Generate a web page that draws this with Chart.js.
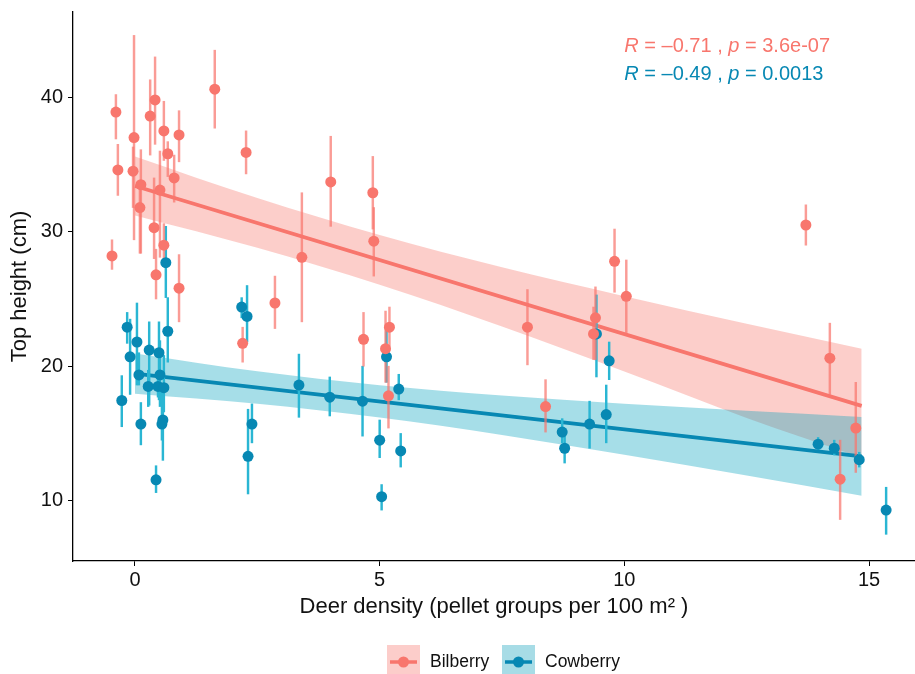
<!DOCTYPE html>
<html>
<head>
<meta charset="utf-8">
<script src="https://cdn.jsdelivr.net/npm/chart.js@4.4.1/dist/chart.umd.min.js"></script>
<style>
  html, body { margin: 0; padding: 0; background: #fff; }
  canvas { display: block; }
</style>
</head>
<body>
<canvas id="chart" width="915" height="674"></canvas>
<script>
// ticks
const xTicks = [0, 5, 10, 15];
const yTicks = [10, 20, 30, 40];

// Bilberry points (x is jittered deer density), with error bar ends
const bilX  = [-0.39, -0.35, -0.47, -0.02, -0.04, 0.12, 0.10, 0.31, 0.41, 0.39, 0.43, 0.51, 0.59, 0.59, 0.67, 0.80, 0.90, 0.90, 1.63, 2.27, 2.20, 2.86, 3.41, 4.00, 4.86, 4.88, 4.67, 5.12, 5.20, 5.18, 8.02, 8.39, 9.41, 9.37, 9.80, 10.04, 13.71, 14.20, 14.73, 14.41];
const bilY  = [38.9, 34.6, 28.2, 37.0, 34.5, 33.5, 31.8, 38.6, 39.8, 30.3, 26.8, 33.1, 37.5, 29.0, 35.8, 34.0, 37.2, 25.8, 40.6, 35.9, 21.7, 24.7, 28.1, 33.7, 32.9, 29.3, 22.0, 21.3, 22.9, 17.8, 22.9, 17.0, 23.6, 22.4, 27.8, 25.2, 30.5, 20.6, 15.4, 11.6];
const bilLo = [36.9, 32.7, 27.2, 29.4, 31.8, 28.4, 28.4, 35.7, 36.5, 28.0, 25.0, 28.1, 35.3, 27.4, 34.1, 32.2, 35.2, 23.3, 37.7, 34.3, 20.3, 22.8, 23.3, 30.4, 30.2, 26.7, 20.0, 18.8, 21.5, 15.4, 20.1, 15.1, 20.5, 20.5, 25.5, 22.5, 29.0, 17.9, 12.1, 8.6];
const bilHi = [40.2, 36.5, 29.4, 44.6, 36.3, 36.1, 33.5, 41.3, 43.0, 34.0, 28.7, 36.0, 39.7, 30.6, 36.7, 35.7, 39.0, 28.3, 43.5, 37.5, 22.9, 26.7, 32.9, 37.1, 35.6, 31.8, 24.0, 24.1, 24.4, 20.0, 25.7, 19.0, 25.9, 24.4, 30.2, 27.9, 32.0, 23.2, 18.8, 14.5];

// Cowberry points
const cowX  = [0.63, -0.16, 0.04, -0.10, 0.29, 0.49, 0.67, 0.08, 0.51, 0.27, 0.47, 0.59, -0.27, 0.12, 0.57, 0.55, 0.43, 2.18, 2.29, 2.31, 2.39, 3.35, 3.98, 4.65, 5.14, 5.39, 5.00, 5.43, 5.04, 8.73, 8.78, 9.29, 9.63, 9.69, 9.43, 13.96, 14.29, 14.80, 15.35];
const cowY  = [27.7, 22.9, 21.8, 20.7, 21.2, 21.0, 22.6, 19.35, 19.35, 18.5, 18.5, 18.4, 17.45, 15.7, 16.0, 15.7, 11.55, 24.4, 23.7, 13.3, 15.7, 18.6, 17.7, 17.4, 20.7, 18.3, 14.5, 13.7, 10.3, 15.1, 13.9, 15.7, 16.4, 20.4, 22.4, 14.2, 13.9, 13.05, 9.3];
const cowLo = [25.1, 21.7, 18.6, 17.9, 17.1, 17.5, 20.3, 18.6, 17.0, 17.0, 17.7, 16.6, 15.5, 14.15, 13.0, 14.5, 10.6, 23.6, 21.8, 10.5, 14.3, 16.2, 16.3, 14.8, 18.8, 17.5, 13.2, 12.5, 9.3, 14.3, 12.8, 13.9, 14.3, 19.0, 19.2, 13.8, 13.4, 12.5, 7.5];
const cowHi = [30.4, 24.0, 24.7, 23.5, 23.3, 23.3, 25.1, 21.0, 21.9, 19.7, 19.7, 20.8, 19.3, 17.3, 17.3, 18.6, 12.6, 25.1, 26.0, 16.8, 17.2, 20.9, 19.2, 20.0, 22.7, 19.4, 16.0, 15.0, 11.2, 16.1, 14.8, 17.4, 18.6, 21.8, 25.3, 14.7, 14.5, 13.6, 11.0];

// regression lines and confidence bands
const fitX   = [0, 14.85];
const bilFit = [33.4, 17.05];
const cowFit = [19.45, 13.3];
const bandX    = [0, 2.5, 5, 7.5, 10, 12.5, 14.85];
const bilBandHi = [35.6, 32.5, 29.75, 27.35, 25.2, 23.15, 21.3];
const bilBandLo = [31.2, 28.8, 26.05, 22.95, 19.6, 16.15, 13.2];
const cowBandHi = [20.95, 19.62, 18.58, 17.82, 17.21, 16.69, 16.23];
const cowBandLo = [17.95, 17.2, 16.18, 14.88, 13.41, 11.87, 10.37];

const labels = ['Bilberry', 'Cowberry'];
const corrText = [['–0.71', '3.6e-07'], ['–0.49', '0.0013']];

const COL = {
    bil: { point: '#F8766D', bar: 'rgba(248,118,109,0.72)', band: 'rgba(248,118,109,0.36)', key: '#FCCDCA' },
    cow: { point: '#0788B3', bar: '#2AB6D3', band: 'rgba(0,160,190,0.35)', key: '#A7DCE6' }
};
const FONT = 'Liberation Sans, Arial, Helvetica, sans-serif';

const pts = (xs, ys) => xs.map((x, i) => ({ x: x, y: ys[i] }));
const bars = (xs, lo, hi) => xs.map((x, i) => ({ x: x, y: [lo[i], hi[i]] }));

// no extra padding from tick labels, so the plot box sits where it should
function noPad(s) {
    s.paddingTop = 0; s.paddingBottom = 0; s.paddingLeft = 0; s.paddingRight = 0;
}

// R / p labels at top right
const corrPlugin = {
    id: 'corr',
    afterDraw(chart) {
        const ctx = chart.ctx;
        const xs = chart.scales.x, ys = chart.scales.y;
        const colors = [COL.bil.point, COL.cow.point];
        const rows = [43.8, 41.7];
        ctx.save();
        ctx.textBaseline = 'middle';
        rows.forEach((yv, i) => {
            let x = xs.getPixelForValue(10.0);
            const y = ys.getPixelForValue(yv);
            ctx.fillStyle = colors[i];
            const parts = [
                ['italic', 'R'], ['normal', ' = ' + corrText[i][0] + ' , '],
                ['italic', 'p'], ['normal', ' = ' + corrText[i][1]]
            ];
            parts.forEach(([st, t]) => {
                ctx.font = st + ' 20px ' + FONT;
                ctx.fillText(t, x, y);
                x += ctx.measureText(t).width;
            });
        });
        ctx.restore();
    }
};

// bottom legend: band box with line + dot
const legendPlugin = {
    id: 'keyLegend',
    afterDraw(chart) {
        const ctx = chart.ctx;
        const cols = [COL.bil, COL.cow];
        const startX = [387, 502];
        const cy = 662;
        ctx.save();
        ctx.font = '17.5px ' + FONT;
        ctx.textBaseline = 'middle';
        labels.forEach((lab, i) => {
            const x0 = startX[i];
            ctx.fillStyle = cols[i].key;
            ctx.fillRect(x0, cy - 17, 33, 34);
            ctx.strokeStyle = cols[i].point;
            ctx.lineWidth = 3.5;
            ctx.beginPath();
            ctx.moveTo(x0 + 3, cy);
            ctx.lineTo(x0 + 30, cy);
            ctx.stroke();
            ctx.fillStyle = cols[i].point;
            ctx.beginPath();
            ctx.arc(x0 + 16.5, cy, 5.5, 0, Math.PI * 2);
            ctx.fill();
            ctx.fillStyle = '#111';
            ctx.fillText(lab, x0 + 43, cy);
        });
        ctx.restore();
    }
};

new Chart(document.getElementById('chart'), {
    type: 'scatter',
    data: {
        datasets: [
            { type: 'line', data: pts(bandX, bilBandHi), borderWidth: 0, pointRadius: 0, fill: '+1',
              backgroundColor: COL.bil.band, cubicInterpolationMode: 'monotone', order: 6 },
            { type: 'line', data: pts(bandX, bilBandLo), borderWidth: 0, pointRadius: 0, fill: false,
              cubicInterpolationMode: 'monotone', order: 6 },
            { type: 'line', data: pts(bandX, cowBandHi), borderWidth: 0, pointRadius: 0, fill: '+1',
              backgroundColor: COL.cow.band, cubicInterpolationMode: 'monotone', order: 5 },
            { type: 'line', data: pts(bandX, cowBandLo), borderWidth: 0, pointRadius: 0, fill: false,
              cubicInterpolationMode: 'monotone', order: 5 },
            { type: 'line', data: pts(fitX, bilFit), borderColor: COL.bil.point, borderWidth: 3.8,
              pointRadius: 0, fill: false, order: 3 },
            { type: 'line', data: pts(fitX, cowFit), borderColor: COL.cow.point, borderWidth: 3.8,
              pointRadius: 0, fill: false, order: 3 },
            { type: 'bar', data: bars(bilX, bilLo, bilHi), backgroundColor: COL.bil.bar,
              barThickness: 1.8, grouped: false, order: 2 },
            { type: 'bar', data: bars(cowX, cowLo, cowHi), backgroundColor: COL.cow.bar,
              barThickness: 1.8, grouped: false, order: 2 },
            { label: labels[0], data: pts(bilX, bilY), backgroundColor: COL.bil.point, pointRadius: 5.5,
              borderWidth: 0, order: 1 },
            { label: labels[1], data: pts(cowX, cowY), backgroundColor: COL.cow.point, pointRadius: 5.5,
              borderWidth: 0, order: 1 }
        ]
    },
    options: {
        responsive: false,
        animation: false,
        events: [],
        layout: { autoPadding: false, padding: { top: 12, right: 0, bottom: 0, left: 0 } },
        plugins: { legend: { display: false }, tooltip: { enabled: false } },
        scales: {
            x: {
                type: 'linear', min: -1.267, max: 15.94, offset: false,
                afterBuildTicks: s => { s.ticks = xTicks.map(v => ({ value: v })); },
                afterFit: s => { s.height = 113; noPad(s); },
                grid: { drawOnChartArea: false, offset: false, color: '#000', tickLength: 5, lineWidth: 1 },
                border: { display: true, color: '#000', width: 1.3 },
                ticks: { color: '#111', font: { family: FONT, size: 20 }, padding: 2, maxRotation: 0 },
                title: { display: true, text: 'Deer density (pellet groups per 100 m² )', color: '#111',
                         font: { family: FONT, size: 22 }, padding: { top: 4, bottom: 54 } }
            },
            y: {
                type: 'linear', min: 5.515, max: 46.34,
                afterBuildTicks: s => { s.ticks = yTicks.map(v => ({ value: v })); },
                afterFit: s => { s.width = 73; noPad(s); },
                grid: { drawOnChartArea: false, color: '#000', tickLength: 5, lineWidth: 1 },
                border: { display: true, color: '#000', width: 1.3 },
                ticks: { color: '#111', font: { family: FONT, size: 20 }, padding: 5 },
                title: { display: true, text: 'Top height (cm)', color: '#111',
                         font: { family: FONT, size: 22 }, padding: { top: 7, bottom: 0 } }
            }
        }
    },
    plugins: [corrPlugin, legendPlugin]
});
</script>
</body>
</html>
